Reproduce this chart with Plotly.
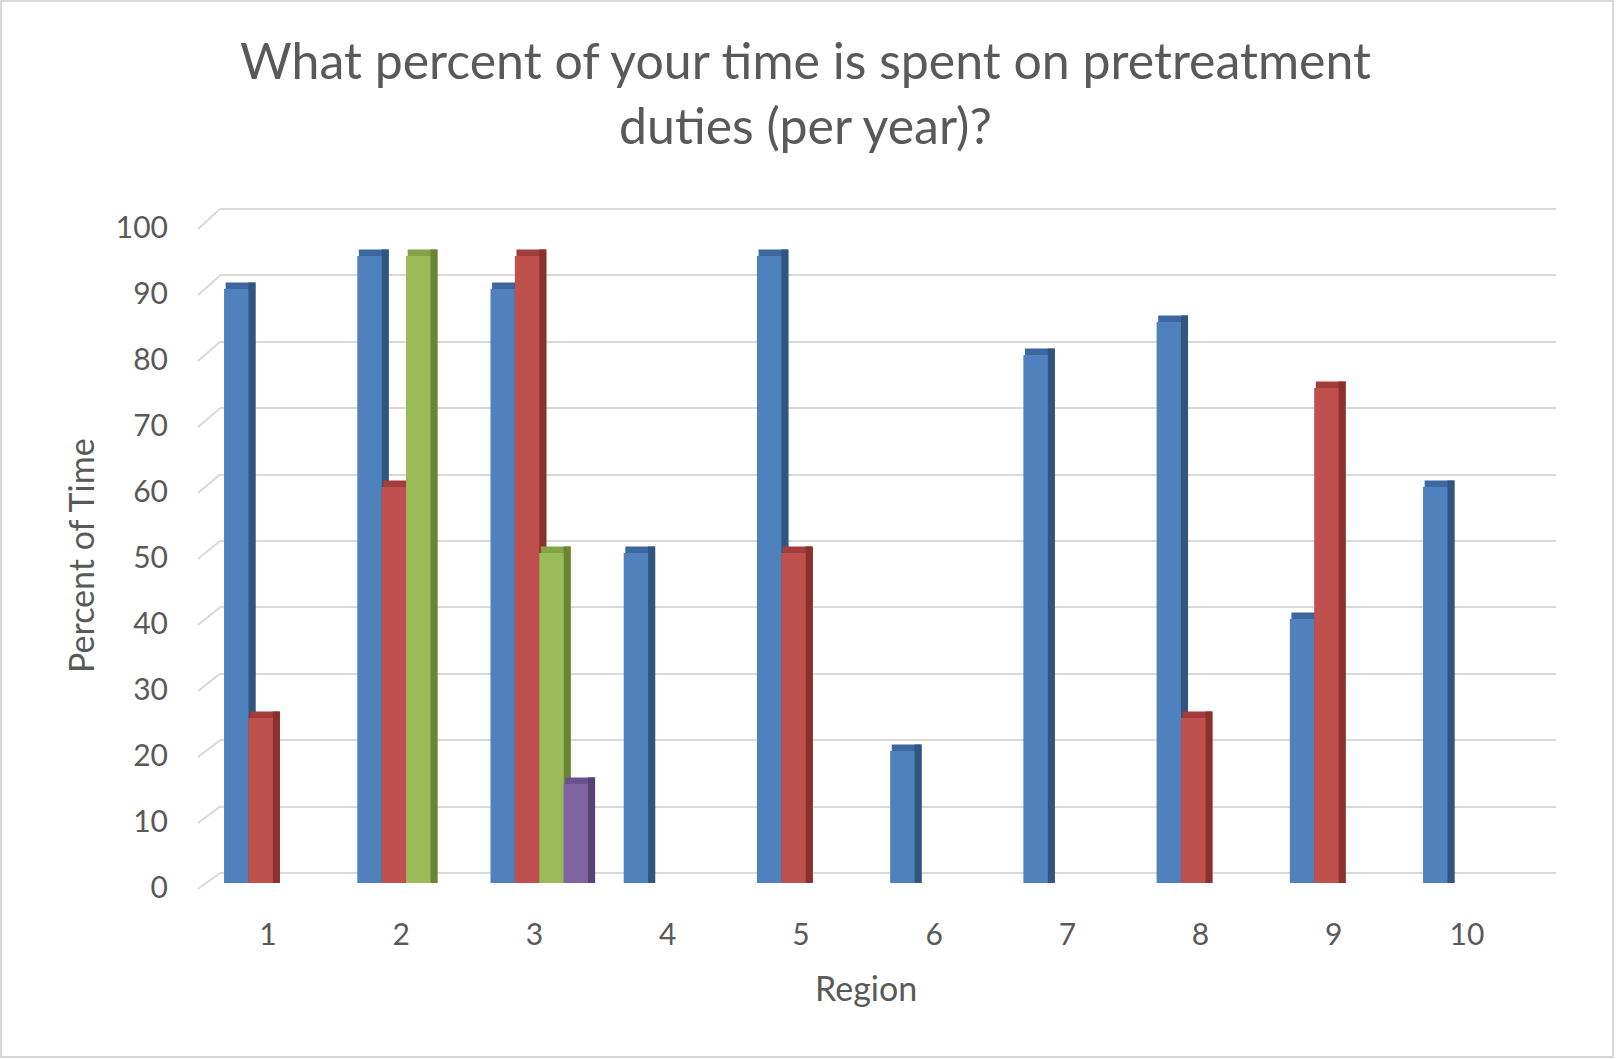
import plotly.graph_objects as go

W, H = 1616, 1059

regions = ["1", "2", "3", "4", "5", "6", "7", "8", "9", "10"]
series1 = [90, 95, 90, 50, 95, 20, 80, 85, 40, 60]
series2 = [25, 60, 95, None, 50, None, None, 25, 75, None]
series3 = [None, 95, 50, None, None, None, None, None, None, None]
series4 = [None, None, 15, None, None, None, None, None, None, None]
series_names = ["Series1", "Series2", "Series3", "Series4"]
y_ticks = [0, 10, 20, 30, 40, 50, 60, 70, 80, 90, 100]

title_line1 = "What percent of your time is spent on pretreatment"
title_line2 = "duties (per year)?"
y_title = "Percent of Time"
x_title = "Region"

front_colors = ["#4F81BD", "#C0504D", "#9BBB59", "#8064A2"]
side_colors = ["#31557F", "#8A302D", "#6B8537", "#574274"]
top_colors = ["#3C67A0", "#A23D3A", "#84A344", "#6A5190"]

FONT = "Lato"
TXT = "#595959"
GRID = "#D9D9D9"


def px_x(p):
    return p / W


def px_y(p):
    return 1 - p / H


fig = go.Figure()

# invisible traces to establish the grid subplot (xy) and label axis (x2y3)
fig.add_trace(go.Scatter(x=[None], y=[None], xaxis="x", yaxis="y",
                         showlegend=False, hoverinfo="skip"))
fig.add_trace(go.Scatter(x=regions, y=[None] * len(regions), xaxis="x2", yaxis="y3",
                         showlegend=False, hoverinfo="skip"))

slot = 0.183
start = -0.33
side_w = 0.053
depth = 1.0

all_series = [series1, series2, series3, series4]
for i, vals in enumerate(all_series):
    off_front = start + i * slot
    raised = [None if v is None else v + depth for v in vals]
    # top face (band above the front)
    fig.add_trace(go.Bar(x=regions, y=raised, offset=off_front + 0.012, width=slot + side_w - 0.012,
                         marker=dict(color=top_colors[i], line=dict(width=0)),
                         xaxis="x2", yaxis="y2", showlegend=False, hoverinfo="skip"))
    # side face
    fig.add_trace(go.Bar(x=regions, y=raised, offset=off_front + slot, width=side_w,
                         marker=dict(color=side_colors[i], line=dict(width=0)),
                         xaxis="x2", yaxis="y2", showlegend=False, hoverinfo="skip"))
    # front face
    fig.add_trace(go.Bar(x=regions, y=vals, offset=off_front, width=slot, name=series_names[i],
                         marker=dict(color=front_colors[i], line=dict(width=0)),
                         xaxis="x2", yaxis="y2", showlegend=False))

# back-wall scale: 0 at 873 px, 100 at 209 px
g0, g100 = 873, 209
gpu = (g0 - g100) / 100.0
g_lo, g_hi = -1, 101
# front floor-edge scale (where tick labels sit): 0 at 889 px, 100 at 229 px
f0, f100 = 889, 229
fpu = (f0 - f100) / 100.0

shapes = []
# 3D left-wall stubs of gridlines (diagonal from front edge to back wall)
for v in y_ticks:
    shapes.append(dict(type="line", xref="paper", yref="paper",
                       x0=px_x(198), y0=px_y(f0 - fpu * v),
                       x1=px_x(220), y1=px_y(g0 - gpu * v),
                       line=dict(color=GRID, width=2), layer="below"))
# chart border
shapes.append(dict(type="rect", xref="paper", yref="paper", x0=px_x(1), y0=px_y(1057),
                   x1=px_x(1613), y1=px_y(1), line=dict(color="#D9D9D9", width=2)))

annotations = [
    dict(text=title_line1, x=px_x(805), y=px_y(92), xref="paper", yref="paper",
         xanchor="center", yanchor="bottom", showarrow=False,
         font=dict(family=FONT, size=50, color=TXT)),
    dict(text=title_line2, x=px_x(805), y=px_y(157), xref="paper", yref="paper",
         xanchor="center", yanchor="bottom", showarrow=False,
         font=dict(family=FONT, size=50, color=TXT)),
    dict(text=y_title, x=px_x(80), y=px_y(556), xref="paper", yref="paper",
         xanchor="center", yanchor="middle", textangle=-90, showarrow=False,
         font=dict(family=FONT, size=34, color=TXT)),
    dict(text=x_title, x=px_x(866), y=px_y(987), xref="paper", yref="paper",
         xanchor="center", yanchor="middle", showarrow=False,
         font=dict(family=FONT, size=34, color=TXT)),
]

fig.update_layout(
    width=W, height=H, autosize=False,
    margin=dict(l=0, r=0, t=0, b=0, pad=0, autoexpand=False),
    paper_bgcolor="white",
    plot_bgcolor="rgba(0,0,0,0)",
    barmode="overlay",
    showlegend=False,
    font=dict(family=FONT, color=TXT),
    shapes=shapes,
    annotations=annotations,
    # back-wall gridlines
    xaxis=dict(domain=[px_x(220), px_x(1556)], range=[0, 1], showgrid=False,
               showticklabels=False, zeroline=False, showline=False, ticks="",
               automargin=False),
    yaxis=dict(domain=[px_y(g0 + gpu * 1), px_y(g100 - gpu * 1)], range=[g_lo, g_hi],
               tickvals=y_ticks, showgrid=True, gridcolor=GRID, gridwidth=2,
               showticklabels=False, zeroline=False, showline=False, ticks="",
               anchor="x", automargin=False),
    # bars
    xaxis2=dict(domain=[px_x(201.4), px_x(1533.6)], type="category", range=[-0.5, 9.5],
                anchor="y2", showgrid=False, zeroline=False, showline=False, ticks="",
                tickfont=dict(family=FONT, size=30, color=TXT), ticklabelstandoff=31,
                automargin=False),
    yaxis2=dict(domain=[px_y(883), px_y(223)], range=[0, 100], anchor="x2",
                showgrid=False, showticklabels=False, zeroline=False, showline=False,
                ticks="", automargin=False),
    # tick labels at the front edge
    yaxis3=dict(domain=[px_y(887), px_y(227)], range=[0, 100], tickvals=y_ticks,
                anchor="free", position=px_x(174), showgrid=False, zeroline=False,
                showline=False, ticks="", ticklabelstandoff=6, automargin=False,
                tickfont=dict(family=FONT, size=30, color=TXT)),
)

fig.write_html("out.html", config={"displayModeBar": False},
               post_script="document.body.style.margin='0';")
